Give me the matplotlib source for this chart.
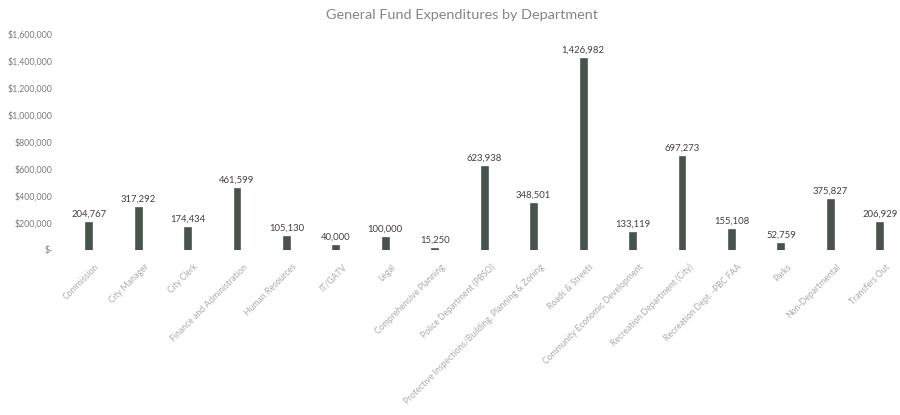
import matplotlib
matplotlib.use("Agg")
import matplotlib.pyplot as plt
from matplotlib.ticker import FuncFormatter
from matplotlib.transforms import ScaledTranslation

departments = [
    "Commission", "City Manager", "City Clerk", "Finance and Administration",
    "Human Resources", "IT/GATV", "Legal", "Comprehensive Planning",
    "Police Department (PBSO)", "Protective Inspections/Building, Planning & Zoning",
    "Roads & Streets", "Community Economic Development",
    "Recreation Department (City)", "Recreation Dept. -PBC FAA", "Parks",
    "Non-Departmental", "Transfers Out",
]
expenditures = [
    204767, 317292, 174434, 461599, 105130, 40000, 100000, 15250,
    623938, 348501, 1426982, 133119, 697273, 155108, 52759, 375827, 206929,
]
y_ticks = [0, 200000, 400000, 600000, 800000, 1000000, 1200000, 1400000, 1600000]

plt.rcParams["font.family"] = ["Lato", "DejaVu Sans"]

fig = plt.figure(figsize=(9, 4.15), dpi=100)
ax = fig.add_axes([0.071, 0.3976, 0.934, 0.5193])

x = list(range(len(departments)))
ax.bar(x, expenditures, width=0.14, color="#46544b", edgecolor="#3a463e", linewidth=0.4)

for xi, v in zip(x, expenditures):
    ax.text(xi, v + 24000, f"{v:,}", ha="center", va="bottom", fontsize=6.8, color="#404040")

ax.set_xlim(-0.5, len(departments) - 0.5)
ax.set_ylim(0, 1600000)
ax.set_yticks(y_ticks)
ax.yaxis.set_major_formatter(FuncFormatter(lambda v, p: "$-" if v == 0 else f"${v:,.0f}"))
ax.tick_params(axis="y", length=0, labelsize=6.3, labelcolor="#7a7a7a", pad=8)

ax.set_xticks(x)
ax.set_xticklabels(departments, rotation=45, ha="right", rotation_mode="anchor",
                   fontsize=6.2, color="#ababab")
ax.tick_params(axis="x", length=0, pad=9)
shift = ScaledTranslation(6 / 100, 0, fig.dpi_scale_trans)
for lbl in ax.get_xticklabels():
    lbl.set_transform(lbl.get_transform() + shift)

for s in ax.spines.values():
    s.set_visible(False)

fig.text(462 / 900, 1 - 15 / 415, "General Fund Expenditures by Department",
         ha="center", va="center", fontsize=10.4, color="#858585")

fig.savefig("out.png", dpi=100, facecolor="white")
